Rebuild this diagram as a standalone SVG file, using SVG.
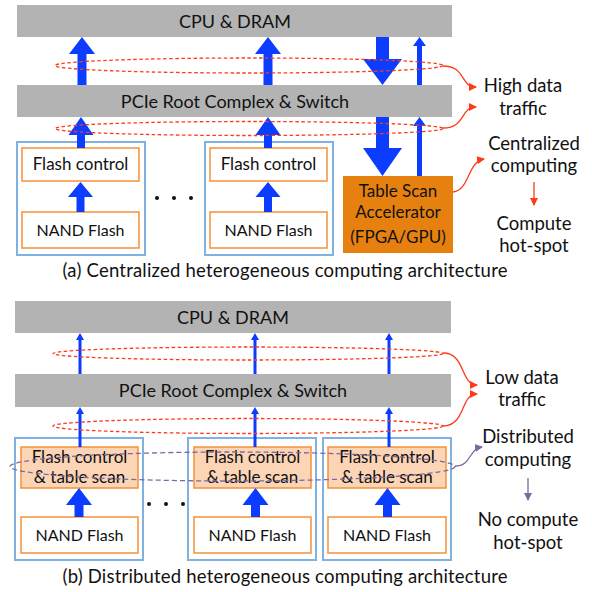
<svg xmlns="http://www.w3.org/2000/svg" width="592" height="592" viewBox="0 0 592 592">
<style>
text{font-family:Lato,"Open Sans","Liberation Sans",sans-serif;fill:#111;text-anchor:middle}
.t16{font-size:17px}
.tn{font-size:16px}
.t17{font-size:18.5px}
.tb{font-size:18px}
.cap{font-size:18.5px}
.bar{fill:#b3b3b3}
.mod{fill:#fff;stroke:#7fb2e0;stroke-width:2}
.box{fill:#fff;stroke:#f5913a;stroke-width:1.5}
.boxf{fill:#fbd5b6;stroke:#f5913a;stroke-width:1.5}
.arr{fill:#0b3cff}
.red{fill:none;stroke:#ff3a1a;stroke-width:1.3;stroke-dasharray:3.5,2.5}
.redc{fill:none;stroke:#ff3a1a;stroke-width:1.3}
.pur{fill:none;stroke:#7d68a0;stroke-width:1.3;stroke-dasharray:5,3}
.purc{fill:none;stroke:#7d68a0;stroke-width:1.3}
</style>
<defs>
<marker id="hr" markerWidth="8" markerHeight="8" refX="7" refY="4" orient="auto" markerUnits="userSpaceOnUse"><path d="M0,0 L8,4 L0,8 z" fill="#ff3a1a"/></marker>
<marker id="hp" markerWidth="8" markerHeight="8" refX="7" refY="4" orient="auto" markerUnits="userSpaceOnUse"><path d="M0,0 L8,4 L0,8 z" fill="#7d68a0"/></marker>
</defs>

<!-- (a) -->
<g id="cpu-a"><rect class="bar" x="17" y="5" width="435" height="32"/><text class="tb" x="235" y="28">CPU &amp; DRAM</text></g>
<g id="pcie-a"><rect class="bar" x="17" y="85" width="435" height="32"/><text class="tb" x="235" y="108">PCIe Root Complex &amp; Switch</text></g>
<g id="ssd-a1"><rect class="mod" x="17" y="142" width="128" height="113"/>
<rect class="box" x="22" y="148" width="117" height="33"/><text class="t16" x="80.5" y="170">Flash control</text>
<rect class="box" x="22" y="212" width="117" height="36"/><text class="tn" x="80.5" y="236">NAND Flash</text></g>
<g id="ssd-a2"><rect class="mod" x="205" y="142" width="128" height="113"/>
<rect class="box" x="210" y="148" width="117" height="33"/><text class="t16" x="268.5" y="170">Flash control</text>
<rect class="box" x="210" y="212" width="117" height="36"/><text class="tn" x="268.5" y="236">NAND Flash</text></g>
<g id="dots-a" fill="#111"><circle cx="157" cy="198" r="2"/><circle cx="174" cy="198" r="2"/><circle cx="191" cy="198" r="2"/></g>
<g id="acc"><rect x="343" y="176" width="110" height="77" fill="#e6810f"/>
<text class="t16" x="398" y="197">Table Scan</text><text class="t16" x="398" y="218">Accelerator</text><text class="t16" x="398" y="243">(FPGA/GPU)</text></g>
<g id="lbl-a">
<text class="t17" x="523" y="92">High data</text><text class="t17" x="523" y="115">traffic</text>
<text class="t17" x="534" y="150">Centralized</text><text class="t17" x="534" y="172">computing</text>
<text class="t17" x="534" y="230">Compute</text><text class="t17" x="534" y="252">hot-spot</text>
<text class="cap" x="285" y="277" textLength="445" lengthAdjust="spacing">(a) Centralized heterogeneous computing architecture</text></g>

<!-- (b) -->
<g id="cpu-b"><rect class="bar" x="15" y="301" width="436" height="32"/><text class="tb" x="233" y="324">CPU &amp; DRAM</text></g>
<g id="pcie-b"><rect class="bar" x="15" y="374" width="436" height="33"/><text class="tb" x="233" y="397">PCIe Root Complex &amp; Switch</text></g>
<g id="ssd-b1"><rect class="mod" x="15" y="438" width="128" height="122"/>
<rect class="boxf" x="21" y="447" width="117" height="41"/><text class="t16" x="79.5" y="463">Flash control</text><text class="t16" x="79.5" y="483">&amp; table scan</text>
<rect class="box" x="21" y="517" width="117" height="36"/><text class="tn" x="79.5" y="541">NAND Flash</text></g>
<g id="ssd-b2"><rect class="mod" x="188" y="438" width="128" height="122"/>
<rect class="boxf" x="194" y="447" width="117" height="41"/><text class="t16" x="252.5" y="463">Flash control</text><text class="t16" x="252.5" y="483">&amp; table scan</text>
<rect class="box" x="194" y="517" width="117" height="36"/><text class="tn" x="252.5" y="541">NAND Flash</text></g>
<g id="ssd-b3"><rect class="mod" x="323" y="438" width="128" height="122"/>
<rect class="boxf" x="328" y="447" width="118" height="41"/><text class="t16" x="387" y="463">Flash control</text><text class="t16" x="387" y="483">&amp; table scan</text>
<rect class="box" x="328" y="517" width="118" height="36"/><text class="tn" x="387" y="541">NAND Flash</text></g>
<g id="dots-b" fill="#111"><circle cx="149" cy="504" r="2"/><circle cx="166" cy="504" r="2"/><circle cx="183" cy="504" r="2"/></g>
<g id="lbl-b">
<text class="t17" x="522" y="384">Low data</text><text class="t17" x="522" y="406">traffic</text>
<text class="t17" x="528" y="443">Distributed</text><text class="t17" x="528" y="466">computing</text>
<text class="t17" x="528" y="526">No compute</text><text class="t17" x="528" y="549">hot-spot</text>
<text class="cap" x="285" y="583" textLength="445" lengthAdjust="spacing">(b) Distributed heterogeneous computing architecture</text></g>

<g id="connectors">
<polygon class="arr" points="77.5,85 77.5,54 69,54 82,37 95,54 86.5,54 86.5,85"/>
<polygon class="arr" points="263.5,85 263.5,54 255,54 268,37 281,54 272.5,54 272.5,85"/>
<polygon class="arr" points="77,148 77,135 68.5,135 81,117 93.5,135 85,135 85,148"/>
<polygon class="arr" points="264,148 264,135 255.5,135 268,117 280.5,135 272,135 272,148"/>
<polygon class="arr" points="76.5,212 76.5,197 68,197 80.5,182 93,197 84.5,197 84.5,212"/>
<polygon class="arr" points="264,212 264,197 255.5,197 268,182 280.5,197 272,197 272,212"/>
<polygon class="arr" points="376,37 389,37 389,59 402,59 382.5,85 363,59 376,59"/>
<polygon class="arr" points="376,117 389,117 389,148 402,148 382.5,176 363,148 376,148"/>
<polygon class="arr" points="417,85 417,46 413,46 419.5,37 426,46 422,46 422,85"/>
<polygon class="arr" points="417,176 417,126 413,126 419.5,117 426,126 422,126 422,176"/>
<ellipse class="red" cx="249" cy="65.5" rx="194" ry="7.5"/>
<ellipse class="red" cx="249" cy="128.5" rx="194" ry="7"/>
<path class="redc" d="M443,66 C466,66 460,87 476,87" marker-end="url(#hr)"/>
<path class="redc" d="M443,128 C466,128 460,107 476,107" marker-end="url(#hr)"/>
<path class="redc" d="M453,192 C470,190 467,162 484,159" marker-end="url(#hr)"/>
<line class="redc" x1="534" y1="182" x2="534" y2="205" marker-end="url(#hr)"/>
<polygon class="arr" points="78.5,374 78.5,340 76,340 80,333 84,340 81.5,340 81.5,374"/>
<polygon class="arr" points="253.5,374 253.5,340 251,340 255,333 259,340 256.5,340 256.5,374"/>
<polygon class="arr" points="387.5,374 387.5,340 385,340 389,333 393,340 390.5,340 390.5,374"/>
<polygon class="arr" points="78.5,447 78.5,414 76,414 80,407 84,414 81.5,414 81.5,447"/>
<polygon class="arr" points="253.5,447 253.5,414 251,414 255,407 259,414 256.5,414 256.5,447"/>
<polygon class="arr" points="387.5,447 387.5,414 385,414 389,407 393,414 390.5,414 390.5,447"/>
<polygon class="arr" points="74.5,517 74.5,505 66,505 79,488 92,505 83.5,505 83.5,517"/>
<polygon class="arr" points="251,517 251,505 242.5,505 255.5,488 268.5,505 260,505 260,517"/>
<polygon class="arr" points="383,517 383,505 374.5,505 387.5,488 400.5,505 392,505 392,517"/>
<ellipse class="red" cx="248" cy="353.5" rx="195" ry="6.5"/>
<ellipse class="red" cx="248" cy="426" rx="195" ry="7.5"/>
<path class="redc" d="M443,353 C466,353 460,385 477,385" marker-end="url(#hr)"/>
<path class="redc" d="M443,426 C466,426 460,394 477,394" marker-end="url(#hr)"/>
<ellipse class="pur" cx="232.5" cy="466.5" rx="222.5" ry="14.5"/>
<path class="purc" d="M455,466 C472,466 468,449 482,447" marker-end="url(#hp)"/>
<line class="purc" x1="528" y1="478" x2="528" y2="500" marker-end="url(#hp)"/>
</g>
</svg>
